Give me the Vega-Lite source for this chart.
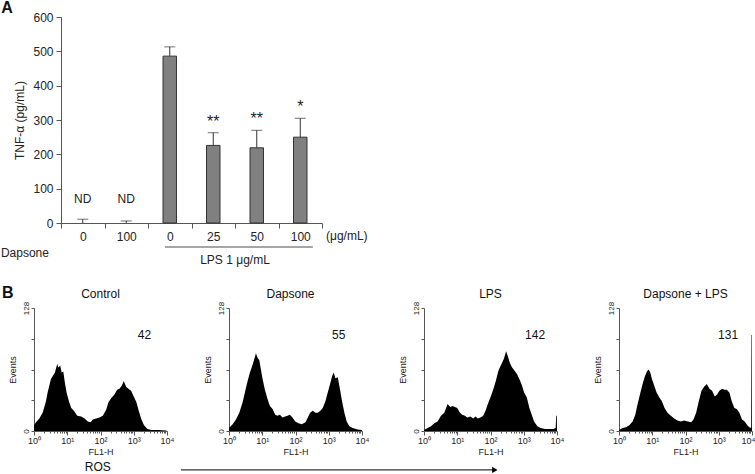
{
  "$schema": "https://vega.github.io/schema/vega-lite/v6.json",
  "padding": {"left": 0, "top": 0, "right": 0, "bottom": 0},
  "config": {
    "font": "Liberation Sans",
    "view": {"stroke": null},
    "axis": {"grid": false, "domainColor": "#555", "tickColor": "#555", "labelColor": "#222", "titleColor": "#222", "titleFontWeight": "normal"}
  },
  "bounds": "flush",
  "spacing": 85,
  "datasets": {
    "tnf": [
      {"cond": "D_0", "mean": 0, "upper": 11, "note": "ND"},
      {"cond": "D_100", "mean": 0, "upper": 6, "note": "ND"},
      {"cond": "L_0", "mean": 486, "upper": 513, "note": ""},
      {"cond": "L_25", "mean": 226, "upper": 263, "note": "**"},
      {"cond": "L_50", "mean": 219, "upper": 270, "note": "**"},
      {"cond": "L_100", "mean": 250, "upper": 305, "note": "*"}
    ],
    "labels": [
      {"panel": "C", "title": "Control", "mfi": "42"},
      {"panel": "D", "title": "Dapsone", "mfi": "55"},
      {"panel": "L", "title": "LPS", "mfi": "142"},
      {"panel": "DL", "title": "Dapsone + LPS", "mfi": "131"}
    ],
    "hist": [
      {"panel":"C","log_fl1":0,"events":6},{"panel":"C","log_fl1":0.06,"events":9},{"panel":"C","log_fl1":0.16,"events":13},{"panel":"C","log_fl1":0.26,"events":19},{"panel":"C","log_fl1":0.36,"events":31},{"panel":"C","log_fl1":0.41,"events":40},{"panel":"C","log_fl1":0.46,"events":47},{"panel":"C","log_fl1":0.51,"events":54},{"panel":"C","log_fl1":0.56,"events":57},{"panel":"C","log_fl1":0.63,"events":61},{"panel":"C","log_fl1":0.70,"events":70},{"panel":"C","log_fl1":0.73,"events":66},{"panel":"C","log_fl1":0.79,"events":68},{"panel":"C","log_fl1":0.83,"events":61},{"panel":"C","log_fl1":0.88,"events":62},{"panel":"C","log_fl1":0.93,"events":50},{"panel":"C","log_fl1":0.98,"events":40},{"panel":"C","log_fl1":1.05,"events":31},{"panel":"C","log_fl1":1.12,"events":24},{"panel":"C","log_fl1":1.20,"events":21},{"panel":"C","log_fl1":1.30,"events":16},{"panel":"C","log_fl1":1.42,"events":15},{"panel":"C","log_fl1":1.52,"events":13},{"panel":"C","log_fl1":1.62,"events":10},{"panel":"C","log_fl1":1.70,"events":9},{"panel":"C","log_fl1":1.77,"events":12},{"panel":"C","log_fl1":1.87,"events":13},{"panel":"C","log_fl1":1.97,"events":14},{"panel":"C","log_fl1":2.07,"events":16},{"panel":"C","log_fl1":2.17,"events":22},{"panel":"C","log_fl1":2.24,"events":30},{"panel":"C","log_fl1":2.32,"events":34},{"panel":"C","log_fl1":2.42,"events":38},{"panel":"C","log_fl1":2.50,"events":43},{"panel":"C","log_fl1":2.57,"events":44},{"panel":"C","log_fl1":2.64,"events":47},{"panel":"C","log_fl1":2.70,"events":52},{"panel":"C","log_fl1":2.77,"events":46},{"panel":"C","log_fl1":2.84,"events":44},{"panel":"C","log_fl1":2.92,"events":42},{"panel":"C","log_fl1":3.00,"events":36},{"panel":"C","log_fl1":3.08,"events":30},{"panel":"C","log_fl1":3.15,"events":21},{"panel":"C","log_fl1":3.23,"events":12},{"panel":"C","log_fl1":3.31,"events":6},{"panel":"C","log_fl1":3.41,"events":2},{"panel":"C","log_fl1":3.53,"events":1},{"panel":"C","log_fl1":3.73,"events":1},{"panel":"C","log_fl1":3.98,"events":0.5},
      {"panel":"D","log_fl1":0,"events":3},{"panel":"D","log_fl1":0.11,"events":7},{"panel":"D","log_fl1":0.21,"events":12},{"panel":"D","log_fl1":0.31,"events":19},{"panel":"D","log_fl1":0.41,"events":30},{"panel":"D","log_fl1":0.49,"events":42},{"panel":"D","log_fl1":0.56,"events":52},{"panel":"D","log_fl1":0.63,"events":61},{"panel":"D","log_fl1":0.71,"events":69},{"panel":"D","log_fl1":0.77,"events":76},{"panel":"D","log_fl1":0.81,"events":81},{"panel":"D","log_fl1":0.86,"events":76},{"panel":"D","log_fl1":0.91,"events":74},{"panel":"D","log_fl1":0.96,"events":64},{"panel":"D","log_fl1":1.01,"events":54},{"panel":"D","log_fl1":1.08,"events":43},{"panel":"D","log_fl1":1.16,"events":33},{"panel":"D","log_fl1":1.23,"events":26},{"panel":"D","log_fl1":1.31,"events":23},{"panel":"D","log_fl1":1.39,"events":17},{"panel":"D","log_fl1":1.46,"events":16},{"panel":"D","log_fl1":1.53,"events":17},{"panel":"D","log_fl1":1.61,"events":14},{"panel":"D","log_fl1":1.69,"events":15},{"panel":"D","log_fl1":1.76,"events":16},{"panel":"D","log_fl1":1.83,"events":17},{"panel":"D","log_fl1":1.91,"events":14},{"panel":"D","log_fl1":1.99,"events":10},{"panel":"D","log_fl1":2.09,"events":8},{"panel":"D","log_fl1":2.19,"events":7},{"panel":"D","log_fl1":2.30,"events":9},{"panel":"D","log_fl1":2.37,"events":14},{"panel":"D","log_fl1":2.44,"events":19},{"panel":"D","log_fl1":2.52,"events":21},{"panel":"D","log_fl1":2.60,"events":19},{"panel":"D","log_fl1":2.67,"events":19},{"panel":"D","log_fl1":2.75,"events":21},{"panel":"D","log_fl1":2.82,"events":24},{"panel":"D","log_fl1":2.90,"events":31},{"panel":"D","log_fl1":2.97,"events":40},{"panel":"D","log_fl1":3.04,"events":49},{"panel":"D","log_fl1":3.10,"events":57},{"panel":"D","log_fl1":3.15,"events":61},{"panel":"D","log_fl1":3.20,"events":55},{"panel":"D","log_fl1":3.27,"events":56},{"panel":"D","log_fl1":3.34,"events":43},{"panel":"D","log_fl1":3.40,"events":31},{"panel":"D","log_fl1":3.47,"events":19},{"panel":"D","log_fl1":3.54,"events":10},{"panel":"D","log_fl1":3.62,"events":5},{"panel":"D","log_fl1":3.72,"events":3},{"panel":"D","log_fl1":3.87,"events":1.5},{"panel":"D","log_fl1":4.0,"events":1},
      {"panel":"L","log_fl1":0,"events":1},{"panel":"L","log_fl1":0.11,"events":3},{"panel":"L","log_fl1":0.21,"events":5},{"panel":"L","log_fl1":0.31,"events":8},{"panel":"L","log_fl1":0.41,"events":10},{"panel":"L","log_fl1":0.51,"events":16},{"panel":"L","log_fl1":0.61,"events":19},{"panel":"L","log_fl1":0.71,"events":28},{"panel":"L","log_fl1":0.79,"events":25},{"panel":"L","log_fl1":0.86,"events":26},{"panel":"L","log_fl1":0.93,"events":25},{"panel":"L","log_fl1":1.00,"events":24},{"panel":"L","log_fl1":1.08,"events":19},{"panel":"L","log_fl1":1.15,"events":17},{"panel":"L","log_fl1":1.23,"events":16},{"panel":"L","log_fl1":1.30,"events":14},{"panel":"L","log_fl1":1.40,"events":15},{"panel":"L","log_fl1":1.48,"events":13},{"panel":"L","log_fl1":1.55,"events":15},{"panel":"L","log_fl1":1.62,"events":13},{"panel":"L","log_fl1":1.70,"events":14},{"panel":"L","log_fl1":1.78,"events":16},{"panel":"L","log_fl1":1.85,"events":21},{"panel":"L","log_fl1":1.92,"events":28},{"panel":"L","log_fl1":2.00,"events":35},{"panel":"L","log_fl1":2.08,"events":43},{"panel":"L","log_fl1":2.16,"events":52},{"panel":"L","log_fl1":2.24,"events":63},{"panel":"L","log_fl1":2.32,"events":69},{"panel":"L","log_fl1":2.40,"events":75},{"panel":"L","log_fl1":2.47,"events":83},{"panel":"L","log_fl1":2.52,"events":78},{"panel":"L","log_fl1":2.58,"events":71},{"panel":"L","log_fl1":2.65,"events":66},{"panel":"L","log_fl1":2.72,"events":63},{"panel":"L","log_fl1":2.80,"events":59},{"panel":"L","log_fl1":2.88,"events":53},{"panel":"L","log_fl1":2.95,"events":47},{"panel":"L","log_fl1":3.01,"events":40},{"panel":"L","log_fl1":3.09,"events":35},{"panel":"L","log_fl1":3.17,"events":24},{"panel":"L","log_fl1":3.24,"events":17},{"panel":"L","log_fl1":3.31,"events":10},{"panel":"L","log_fl1":3.41,"events":5},{"panel":"L","log_fl1":3.51,"events":3},{"panel":"L","log_fl1":3.64,"events":2},{"panel":"L","log_fl1":3.79,"events":2},{"panel":"L","log_fl1":3.89,"events":2},{"panel":"L","log_fl1":3.96,"events":3},{"panel":"L","log_fl1":3.975,"events":16},{"panel":"L","log_fl1":3.995,"events":16},{"panel":"L","log_fl1":4.0,"events":0},
      {"panel":"DL","log_fl1":0,"events":1},{"panel":"DL","log_fl1":0.11,"events":3},{"panel":"DL","log_fl1":0.21,"events":4},{"panel":"DL","log_fl1":0.31,"events":6},{"panel":"DL","log_fl1":0.41,"events":10},{"panel":"DL","log_fl1":0.49,"events":17},{"panel":"DL","log_fl1":0.56,"events":28},{"panel":"DL","log_fl1":0.63,"events":38},{"panel":"DL","log_fl1":0.71,"events":49},{"panel":"DL","log_fl1":0.78,"events":57},{"panel":"DL","log_fl1":0.84,"events":62},{"panel":"DL","log_fl1":0.89,"events":64},{"panel":"DL","log_fl1":0.94,"events":61},{"panel":"DL","log_fl1":0.99,"events":54},{"panel":"DL","log_fl1":1.06,"events":47},{"panel":"DL","log_fl1":1.13,"events":40},{"panel":"DL","log_fl1":1.21,"events":35},{"panel":"DL","log_fl1":1.29,"events":31},{"panel":"DL","log_fl1":1.37,"events":24},{"panel":"DL","log_fl1":1.46,"events":19},{"panel":"DL","log_fl1":1.56,"events":16},{"panel":"DL","log_fl1":1.66,"events":13},{"panel":"DL","log_fl1":1.76,"events":11},{"panel":"DL","log_fl1":1.86,"events":10},{"panel":"DL","log_fl1":1.96,"events":11},{"panel":"DL","log_fl1":2.07,"events":10},{"panel":"DL","log_fl1":2.17,"events":9},{"panel":"DL","log_fl1":2.24,"events":12},{"panel":"DL","log_fl1":2.32,"events":19},{"panel":"DL","log_fl1":2.40,"events":31},{"panel":"DL","log_fl1":2.48,"events":42},{"panel":"DL","log_fl1":2.56,"events":46},{"panel":"DL","log_fl1":2.64,"events":49},{"panel":"DL","log_fl1":2.72,"events":44},{"panel":"DL","log_fl1":2.80,"events":42},{"panel":"DL","log_fl1":2.88,"events":36},{"panel":"DL","log_fl1":2.95,"events":38},{"panel":"DL","log_fl1":3.02,"events":42},{"panel":"DL","log_fl1":3.10,"events":44},{"panel":"DL","log_fl1":3.17,"events":43},{"panel":"DL","log_fl1":3.24,"events":43},{"panel":"DL","log_fl1":3.32,"events":40},{"panel":"DL","log_fl1":3.39,"events":31},{"panel":"DL","log_fl1":3.47,"events":24},{"panel":"DL","log_fl1":3.54,"events":23},{"panel":"DL","log_fl1":3.62,"events":19},{"panel":"DL","log_fl1":3.70,"events":12},{"panel":"DL","log_fl1":3.78,"events":10},{"panel":"DL","log_fl1":3.86,"events":6},{"panel":"DL","log_fl1":3.92,"events":4},{"panel":"DL","log_fl1":3.975,"events":3},{"panel":"DL","log_fl1":3.985,"events":100},{"panel":"DL","log_fl1":4.0,"events":100}
    ]
  },
  "vconcat": [
    {
      "width": 288,
      "height": 206,
      "data": {"name": "tnf"},
      "layer": [
        {
          "transform": [{"filter": "datum.mean > 0"}],
          "mark": {"type": "bar", "width": {"band": 0.31}, "fill": "#808080", "stroke": "#333", "strokeWidth": 1},
          "encoding": {
            "x": {"field": "cond", "type": "nominal", "scale": {"type": "band", "domain": ["D_0","D_100","L_0","L_25","L_50","L_100"], "paddingInner": 0, "paddingOuter": 0, "range": [27, 288]},
                  "axis": {"title": null, "labelExpr": "split(datum.value, '_')[1]", "tickBand": "extent", "tickSize": 5, "labelAngle": 0, "labelFontSize": 12, "labelPadding": 3}},
            "y": {"field": "mean", "type": "quantitative", "scale": {"domain": [0, 600], "nice": false},
                  "axis": {"title": "TNF-α (pg/mL)", "offset": -27, "values": [0,100,200,300,400,500,600], "tickSize": 5, "labelFontSize": 12, "titleFontSize": 12, "labelPadding": 3, "titlePadding": 6}}
          }
        },
        {
          "mark": {"type": "rule", "color": "#333", "strokeWidth": 1},
          "encoding": {
            "x": {"field": "cond", "type": "nominal", "scale": {"type": "band", "domain": ["D_0","D_100","L_0","L_25","L_50","L_100"], "paddingInner": 0, "paddingOuter": 0, "range": [27, 288]},
                  "axis": {"title": null, "labelExpr": "split(datum.value, '_')[1]", "tickBand": "extent", "tickSize": 5, "labelAngle": 0, "labelFontSize": 12, "labelPadding": 3}},
            "y": {"field": "mean", "type": "quantitative", "scale": {"domain": [0, 600], "nice": false},
                  "axis": {"title": "TNF-α (pg/mL)", "offset": -27, "values": [0,100,200,300,400,500,600], "tickSize": 5, "labelFontSize": 12, "titleFontSize": 12, "labelPadding": 3, "titlePadding": 6}},
            "y2": {"field": "upper"}
          }
        },
        {
          "mark": {"type": "tick", "orient": "horizontal", "size": 11, "thickness": 1, "color": "#333"},
          "encoding": {
            "x": {"field": "cond", "type": "nominal", "scale": {"type": "band", "domain": ["D_0","D_100","L_0","L_25","L_50","L_100"], "paddingInner": 0, "paddingOuter": 0, "range": [27, 288]},
                  "axis": {"title": null, "labelExpr": "split(datum.value, '_')[1]", "tickBand": "extent", "tickSize": 5, "labelAngle": 0, "labelFontSize": 12, "labelPadding": 3}},
            "y": {"field": "upper", "type": "quantitative", "scale": {"domain": [0, 600], "nice": false},
                  "axis": {"title": "TNF-α (pg/mL)", "offset": -27, "values": [0,100,200,300,400,500,600], "tickSize": 5, "labelFontSize": 12, "titleFontSize": 12, "labelPadding": 3, "titlePadding": 6}}
          }
        },
        {
          "transform": [{"filter": "datum.note === 'ND'"}],
          "mark": {"type": "text", "fontSize": 12, "color": "#222", "baseline": "middle"},
          "encoding": {
            "x": {"field": "cond", "type": "nominal", "scale": {"type": "band", "domain": ["D_0","D_100","L_0","L_25","L_50","L_100"], "paddingInner": 0, "paddingOuter": 0, "range": [27, 288]},
                  "axis": {"title": null, "labelExpr": "split(datum.value, '_')[1]", "tickBand": "extent", "tickSize": 5, "labelAngle": 0, "labelFontSize": 12, "labelPadding": 3}},
            "y": {"datum": 70, "type": "quantitative", "scale": {"domain": [0, 600], "nice": false},
                  "axis": {"title": "TNF-α (pg/mL)", "offset": -27, "values": [0,100,200,300,400,500,600], "tickSize": 5, "labelFontSize": 12, "titleFontSize": 12, "labelPadding": 3, "titlePadding": 6}},
            "text": {"field": "note"}
          }
        },
        {
          "transform": [{"filter": "datum.note === '*' || datum.note === '**'"}],
          "mark": {"type": "text", "fontSize": 16, "color": "#222", "baseline": "alphabetic", "dy": -6},
          "encoding": {
            "x": {"field": "cond", "type": "nominal", "scale": {"type": "band", "domain": ["D_0","D_100","L_0","L_25","L_50","L_100"], "paddingInner": 0, "paddingOuter": 0, "range": [27, 288]},
                  "axis": {"title": null, "labelExpr": "split(datum.value, '_')[1]", "tickBand": "extent", "tickSize": 5, "labelAngle": 0, "labelFontSize": 12, "labelPadding": 3}},
            "y": {"field": "upper", "type": "quantitative", "scale": {"domain": [0, 600], "nice": false},
                  "axis": {"title": "TNF-α (pg/mL)", "offset": -27, "values": [0,100,200,300,400,500,600], "tickSize": 5, "labelFontSize": 12, "titleFontSize": 12, "labelPadding": 3, "titlePadding": 6}},
            "text": {"field": "note"}
          }
        },
        {
          "data": {"values": [{"t": "A"}]},
          "mark": {"type": "text", "fontSize": 16, "fontWeight": "bold", "color": "#111", "baseline": "middle"},
          "encoding": {
            "x": {"datum": "D_0", "type": "nominal", "bandPosition": -1.24, "scale": {"type": "band", "domain": ["D_0","D_100","L_0","L_25","L_50","L_100"], "paddingInner": 0, "paddingOuter": 0, "range": [27, 288]},
                  "axis": {"title": null, "labelExpr": "split(datum.value, '_')[1]", "tickBand": "extent", "tickSize": 5, "labelAngle": 0, "labelFontSize": 12, "labelPadding": 3}},
            "y": {"datum": 625, "type": "quantitative", "scale": {"domain": [0, 600], "nice": false},
                  "axis": {"title": "TNF-α (pg/mL)", "offset": -27, "values": [0,100,200,300,400,500,600], "tickSize": 5, "labelFontSize": 12, "titleFontSize": 12, "labelPadding": 3, "titlePadding": 6}},
            "text": {"field": "t"}
          }
        },
        {
          "data": {"values": [{"t": "Dapsone"}]},
          "mark": {"type": "text", "fontSize": 12, "color": "#222", "baseline": "middle"},
          "encoding": {
            "x": {"datum": "D_0", "type": "nominal", "bandPosition": -0.83, "scale": {"type": "band", "domain": ["D_0","D_100","L_0","L_25","L_50","L_100"], "paddingInner": 0, "paddingOuter": 0, "range": [27, 288]},
                  "axis": {"title": null, "labelExpr": "split(datum.value, '_')[1]", "tickBand": "extent", "tickSize": 5, "labelAngle": 0, "labelFontSize": 12, "labelPadding": 3}},
            "y": {"datum": -87, "type": "quantitative", "scale": {"domain": [0, 600], "nice": false},
                  "axis": {"title": "TNF-α (pg/mL)", "offset": -27, "values": [0,100,200,300,400,500,600], "tickSize": 5, "labelFontSize": 12, "titleFontSize": 12, "labelPadding": 3, "titlePadding": 6}},
            "text": {"field": "t"}
          }
        },
        {
          "data": {"values": [{"t": "(μg/mL)"}]},
          "mark": {"type": "text", "fontSize": 12, "color": "#222", "baseline": "middle"},
          "encoding": {
            "x": {"datum": "L_100", "type": "nominal", "bandPosition": 1.57, "scale": {"type": "band", "domain": ["D_0","D_100","L_0","L_25","L_50","L_100"], "paddingInner": 0, "paddingOuter": 0, "range": [27, 288]},
                  "axis": {"title": null, "labelExpr": "split(datum.value, '_')[1]", "tickBand": "extent", "tickSize": 5, "labelAngle": 0, "labelFontSize": 12, "labelPadding": 3}},
            "y": {"datum": -38, "type": "quantitative", "scale": {"domain": [0, 600], "nice": false},
                  "axis": {"title": "TNF-α (pg/mL)", "offset": -27, "values": [0,100,200,300,400,500,600], "tickSize": 5, "labelFontSize": 12, "titleFontSize": 12, "labelPadding": 3, "titlePadding": 6}},
            "text": {"field": "t"}
          }
        },
        {
          "data": {"values": [{"t": "LPS"}]},
          "mark": {"type": "rule", "color": "#888", "strokeWidth": 1.5},
          "encoding": {
            "x": {"datum": "L_0", "type": "nominal", "bandPosition": 0.39, "scale": {"type": "band", "domain": ["D_0","D_100","L_0","L_25","L_50","L_100"], "paddingInner": 0, "paddingOuter": 0, "range": [27, 288]},
                  "axis": {"title": null, "labelExpr": "split(datum.value, '_')[1]", "tickBand": "extent", "tickSize": 5, "labelAngle": 0, "labelFontSize": 12, "labelPadding": 3}},
            "x2": {"datum": "L_100", "bandPosition": 0.79},
            "y": {"datum": -70, "type": "quantitative", "scale": {"domain": [0, 600], "nice": false},
                  "axis": {"title": "TNF-α (pg/mL)", "offset": -27, "values": [0,100,200,300,400,500,600], "tickSize": 5, "labelFontSize": 12, "titleFontSize": 12, "labelPadding": 3, "titlePadding": 6}}
          }
        },
        {
          "data": {"values": [{"t": "LPS 1 μg/mL"}]},
          "mark": {"type": "text", "fontSize": 12, "color": "#222", "baseline": "middle"},
          "encoding": {
            "x": {"datum": "L_50", "type": "nominal", "bandPosition": 0, "scale": {"type": "band", "domain": ["D_0","D_100","L_0","L_25","L_50","L_100"], "paddingInner": 0, "paddingOuter": 0, "range": [27, 288]},
                  "axis": {"title": null, "labelExpr": "split(datum.value, '_')[1]", "tickBand": "extent", "tickSize": 5, "labelAngle": 0, "labelFontSize": 12, "labelPadding": 3}},
            "y": {"datum": -108, "type": "quantitative", "scale": {"domain": [0, 600], "nice": false},
                  "axis": {"title": "TNF-α (pg/mL)", "offset": -27, "values": [0,100,200,300,400,500,600], "tickSize": 5, "labelFontSize": 12, "titleFontSize": 12, "labelPadding": 3, "titlePadding": 6}},
            "text": {"field": "t"}
          }
        }
      ]
    },
    {
      "bounds": "flush",
      "spacing": 62,
      "hconcat": [
        {
          "width": 133, "height": 123,
          "resolve": {"axis": {"x": "independent"}},
          "layer": [
            {
              "data": {"name": "hist"}, "transform": [{"filter": "datum.panel === 'C'"}],
              "mark": {"type": "area", "color": "#000"},
              "encoding": {
                "x": {"field": "log_fl1", "type": "quantitative", "scale": {"domain": [0, 4], "nice": false, "zero": false},
                      "axis": {"orient": "bottom", "title": "FL1-H", "values": [0,1,2,3,4], "labelExpr": "'10' + ['⁰','¹','²','³','⁴'][datum.value]", "tickSize": 4, "labelFontSize": 9, "titleFontSize": 9, "labelPadding": 1, "titlePadding": 2, "labelFlush": false}},
                "y": {"field": "events", "type": "quantitative", "scale": {"domain": [0, 128], "nice": false},
                      "axis": {"title": "Events", "values": [0,32,64,96,128], "labelExpr": "datum.value == 0 || datum.value == 128 ? datum.label : ''", "labelAngle": 270, "labelAlign": "center", "labelBaseline": "bottom", "tickSize": 3, "labelFontSize": 8, "titleFontSize": 9, "labelPadding": 1, "titlePadding": 5}}
              }
            },
            {
              "data": {"name": "labels"}, "transform": [{"filter": "datum.panel === 'C'"}],
              "mark": {"type": "text", "fontSize": 12, "color": "#111", "baseline": "middle"},
              "encoding": {
                "x": {"datum": 3.32, "type": "quantitative", "scale": {"domain": [0, 4], "nice": false, "zero": false},
                      "axis": {"orient": "bottom", "values": [0.301,0.477,0.602,0.699,0.778,0.845,0.903,0.954,1.301,1.477,1.602,1.699,1.778,1.845,1.903,1.954,2.301,2.477,2.602,2.699,2.778,2.845,2.903,2.954,3.301,3.477,3.602,3.699,3.778,3.845,3.903,3.954], "labels": false, "domain": false, "tickSize": 2, "title": null}},
                "y": {"datum": 100, "type": "quantitative", "scale": {"domain": [0, 128], "nice": false},
                      "axis": {"title": "Events", "values": [0,32,64,96,128], "labelExpr": "datum.value == 0 || datum.value == 128 ? datum.label : ''", "labelAngle": 270, "labelAlign": "center", "labelBaseline": "bottom", "tickSize": 3, "labelFontSize": 8, "titleFontSize": 9, "labelPadding": 1, "titlePadding": 5}},
                "text": {"field": "mfi"}
              }
            },
            {
              "data": {"name": "labels"}, "transform": [{"filter": "datum.panel === 'C'"}],
              "mark": {"type": "text", "fontSize": 12, "color": "#111", "baseline": "middle"},
              "encoding": {
                "x": {"datum": 2, "type": "quantitative", "scale": {"domain": [0, 4], "nice": false, "zero": false}, "axis": null},
                "y": {"datum": 142.6, "type": "quantitative", "scale": {"domain": [0, 128], "nice": false},
                      "axis": {"title": "Events", "values": [0,32,64,96,128], "labelExpr": "datum.value == 0 || datum.value == 128 ? datum.label : ''", "labelAngle": 270, "labelAlign": "center", "labelBaseline": "bottom", "tickSize": 3, "labelFontSize": 8, "titleFontSize": 9, "labelPadding": 1, "titlePadding": 5}},
                "text": {"field": "title"}
              }
            },
            {
              "data": {"values": [{"t": "B"}]},
              "mark": {"type": "text", "fontSize": 16, "fontWeight": "bold", "color": "#111", "baseline": "middle"},
              "encoding": {
                "x": {"datum": -0.79, "type": "quantitative", "scale": {"domain": [0, 4], "nice": false, "zero": false}, "axis": null},
                "y": {"datum": 144, "type": "quantitative", "scale": {"domain": [0, 128], "nice": false},
                      "axis": {"title": "Events", "values": [0,32,64,96,128], "labelExpr": "datum.value == 0 || datum.value == 128 ? datum.label : ''", "labelAngle": 270, "labelAlign": "center", "labelBaseline": "bottom", "tickSize": 3, "labelFontSize": 8, "titleFontSize": 9, "labelPadding": 1, "titlePadding": 5}},
                "text": {"field": "t"}
              }
            },
            {
              "data": {"values": [{"t": "ROS"}]},
              "mark": {"type": "text", "fontSize": 12, "color": "#111", "baseline": "middle"},
              "encoding": {
                "x": {"datum": 1.92, "type": "quantitative", "scale": {"domain": [0, 4], "nice": false, "zero": false}, "axis": null},
                "y": {"datum": -37.5, "type": "quantitative", "scale": {"domain": [0, 128], "nice": false},
                      "axis": {"title": "Events", "values": [0,32,64,96,128], "labelExpr": "datum.value == 0 || datum.value == 128 ? datum.label : ''", "labelAngle": 270, "labelAlign": "center", "labelBaseline": "bottom", "tickSize": 3, "labelFontSize": 8, "titleFontSize": 9, "labelPadding": 1, "titlePadding": 5}},
                "text": {"field": "t"}
              }
            },
            {
              "data": {"values": [{"t": "arrow"}]},
              "mark": {"type": "rule", "color": "#000", "strokeWidth": 1},
              "encoding": {
                "x": {"datum": 4.42, "type": "quantitative", "scale": {"domain": [0, 4], "nice": false, "zero": false}, "axis": null},
                "x2": {"datum": 13.8},
                "y": {"datum": -40.5, "type": "quantitative", "scale": {"domain": [0, 128], "nice": false},
                      "axis": {"title": "Events", "values": [0,32,64,96,128], "labelExpr": "datum.value == 0 || datum.value == 128 ? datum.label : ''", "labelAngle": 270, "labelAlign": "center", "labelBaseline": "bottom", "tickSize": 3, "labelFontSize": 8, "titleFontSize": 9, "labelPadding": 1, "titlePadding": 5}}
              }
            },
            {
              "data": {"values": [{"t": "arrowhead"}]},
              "mark": {"type": "point", "shape": "triangle-right", "filled": true, "color": "#000", "size": 40, "opacity": 1},
              "encoding": {
                "x": {"datum": 13.86, "type": "quantitative", "scale": {"domain": [0, 4], "nice": false, "zero": false}, "axis": null},
                "y": {"datum": -40.5, "type": "quantitative", "scale": {"domain": [0, 128], "nice": false},
                      "axis": {"title": "Events", "values": [0,32,64,96,128], "labelExpr": "datum.value == 0 || datum.value == 128 ? datum.label : ''", "labelAngle": 270, "labelAlign": "center", "labelBaseline": "bottom", "tickSize": 3, "labelFontSize": 8, "titleFontSize": 9, "labelPadding": 1, "titlePadding": 5}}
              }
            }
          ]
        },
        {
          "width": 133, "height": 123,
          "resolve": {"axis": {"x": "independent"}},
          "layer": [
            {
              "data": {"name": "hist"}, "transform": [{"filter": "datum.panel === 'D'"}],
              "mark": {"type": "area", "color": "#000"},
              "encoding": {
                "x": {"field": "log_fl1", "type": "quantitative", "scale": {"domain": [0, 4], "nice": false, "zero": false},
                      "axis": {"orient": "bottom", "title": "FL1-H", "values": [0,1,2,3,4], "labelExpr": "'10' + ['⁰','¹','²','³','⁴'][datum.value]", "tickSize": 4, "labelFontSize": 9, "titleFontSize": 9, "labelPadding": 1, "titlePadding": 2, "labelFlush": false}},
                "y": {"field": "events", "type": "quantitative", "scale": {"domain": [0, 128], "nice": false},
                      "axis": {"title": "Events", "values": [0,32,64,96,128], "labelExpr": "datum.value == 0 || datum.value == 128 ? datum.label : ''", "labelAngle": 270, "labelAlign": "center", "labelBaseline": "bottom", "tickSize": 3, "labelFontSize": 8, "titleFontSize": 9, "labelPadding": 1, "titlePadding": 5}}
              }
            },
            {
              "data": {"name": "labels"}, "transform": [{"filter": "datum.panel === 'D'"}],
              "mark": {"type": "text", "fontSize": 12, "color": "#111", "baseline": "middle"},
              "encoding": {
                "x": {"datum": 3.3, "type": "quantitative", "scale": {"domain": [0, 4], "nice": false, "zero": false},
                      "axis": {"orient": "bottom", "values": [0.301,0.477,0.602,0.699,0.778,0.845,0.903,0.954,1.301,1.477,1.602,1.699,1.778,1.845,1.903,1.954,2.301,2.477,2.602,2.699,2.778,2.845,2.903,2.954,3.301,3.477,3.602,3.699,3.778,3.845,3.903,3.954], "labels": false, "domain": false, "tickSize": 2, "title": null}},
                "y": {"datum": 100, "type": "quantitative", "scale": {"domain": [0, 128], "nice": false},
                      "axis": {"title": "Events", "values": [0,32,64,96,128], "labelExpr": "datum.value == 0 || datum.value == 128 ? datum.label : ''", "labelAngle": 270, "labelAlign": "center", "labelBaseline": "bottom", "tickSize": 3, "labelFontSize": 8, "titleFontSize": 9, "labelPadding": 1, "titlePadding": 5}},
                "text": {"field": "mfi"}
              }
            },
            {
              "data": {"name": "labels"}, "transform": [{"filter": "datum.panel === 'D'"}],
              "mark": {"type": "text", "fontSize": 12, "color": "#111", "baseline": "middle"},
              "encoding": {
                "x": {"datum": 1.85, "type": "quantitative", "scale": {"domain": [0, 4], "nice": false, "zero": false}, "axis": null},
                "y": {"datum": 142.6, "type": "quantitative", "scale": {"domain": [0, 128], "nice": false},
                      "axis": {"title": "Events", "values": [0,32,64,96,128], "labelExpr": "datum.value == 0 || datum.value == 128 ? datum.label : ''", "labelAngle": 270, "labelAlign": "center", "labelBaseline": "bottom", "tickSize": 3, "labelFontSize": 8, "titleFontSize": 9, "labelPadding": 1, "titlePadding": 5}},
                "text": {"field": "title"}
              }
            }
          ]
        },
        {
          "width": 133, "height": 123,
          "resolve": {"axis": {"x": "independent"}},
          "layer": [
            {
              "data": {"name": "hist"}, "transform": [{"filter": "datum.panel === 'L'"}],
              "mark": {"type": "area", "color": "#000"},
              "encoding": {
                "x": {"field": "log_fl1", "type": "quantitative", "scale": {"domain": [0, 4], "nice": false, "zero": false},
                      "axis": {"orient": "bottom", "title": "FL1-H", "values": [0,1,2,3,4], "labelExpr": "'10' + ['⁰','¹','²','³','⁴'][datum.value]", "tickSize": 4, "labelFontSize": 9, "titleFontSize": 9, "labelPadding": 1, "titlePadding": 2, "labelFlush": false}},
                "y": {"field": "events", "type": "quantitative", "scale": {"domain": [0, 128], "nice": false},
                      "axis": {"title": "Events", "values": [0,32,64,96,128], "labelExpr": "datum.value == 0 || datum.value == 128 ? datum.label : ''", "labelAngle": 270, "labelAlign": "center", "labelBaseline": "bottom", "tickSize": 3, "labelFontSize": 8, "titleFontSize": 9, "labelPadding": 1, "titlePadding": 5}}
              }
            },
            {
              "data": {"name": "labels"}, "transform": [{"filter": "datum.panel === 'L'"}],
              "mark": {"type": "text", "fontSize": 12, "color": "#111", "baseline": "middle"},
              "encoding": {
                "x": {"datum": 3.34, "type": "quantitative", "scale": {"domain": [0, 4], "nice": false, "zero": false},
                      "axis": {"orient": "bottom", "values": [0.301,0.477,0.602,0.699,0.778,0.845,0.903,0.954,1.301,1.477,1.602,1.699,1.778,1.845,1.903,1.954,2.301,2.477,2.602,2.699,2.778,2.845,2.903,2.954,3.301,3.477,3.602,3.699,3.778,3.845,3.903,3.954], "labels": false, "domain": false, "tickSize": 2, "title": null}},
                "y": {"datum": 100, "type": "quantitative", "scale": {"domain": [0, 128], "nice": false},
                      "axis": {"title": "Events", "values": [0,32,64,96,128], "labelExpr": "datum.value == 0 || datum.value == 128 ? datum.label : ''", "labelAngle": 270, "labelAlign": "center", "labelBaseline": "bottom", "tickSize": 3, "labelFontSize": 8, "titleFontSize": 9, "labelPadding": 1, "titlePadding": 5}},
                "text": {"field": "mfi"}
              }
            },
            {
              "data": {"name": "labels"}, "transform": [{"filter": "datum.panel === 'L'"}],
              "mark": {"type": "text", "fontSize": 12, "color": "#111", "baseline": "middle"},
              "encoding": {
                "x": {"datum": 2, "type": "quantitative", "scale": {"domain": [0, 4], "nice": false, "zero": false}, "axis": null},
                "y": {"datum": 142.6, "type": "quantitative", "scale": {"domain": [0, 128], "nice": false},
                      "axis": {"title": "Events", "values": [0,32,64,96,128], "labelExpr": "datum.value == 0 || datum.value == 128 ? datum.label : ''", "labelAngle": 270, "labelAlign": "center", "labelBaseline": "bottom", "tickSize": 3, "labelFontSize": 8, "titleFontSize": 9, "labelPadding": 1, "titlePadding": 5}},
                "text": {"field": "title"}
              }
            }
          ]
        },
        {
          "width": 133, "height": 123,
          "resolve": {"axis": {"x": "independent"}},
          "layer": [
            {
              "data": {"name": "hist"}, "transform": [{"filter": "datum.panel === 'DL'"}],
              "mark": {"type": "area", "color": "#000"},
              "encoding": {
                "x": {"field": "log_fl1", "type": "quantitative", "scale": {"domain": [0, 4], "nice": false, "zero": false},
                      "axis": {"orient": "bottom", "title": "FL1-H", "values": [0,1,2,3,4], "labelExpr": "'10' + ['⁰','¹','²','³','⁴'][datum.value]", "tickSize": 4, "labelFontSize": 9, "titleFontSize": 9, "labelPadding": 1, "titlePadding": 2, "labelFlush": false,
                               "labelAlign": {"condition": {"test": "datum.value == 4", "value": "right"}, "value": "center"},
                               "labelOffset": {"condition": {"test": "datum.value == 4", "value": 3}, "value": 0}}},
                "y": {"field": "events", "type": "quantitative", "scale": {"domain": [0, 128], "nice": false},
                      "axis": {"title": "Events", "values": [0,32,64,96,128], "labelExpr": "datum.value == 0 || datum.value == 128 ? datum.label : ''", "labelAngle": 270, "labelAlign": "center", "labelBaseline": "bottom", "tickSize": 3, "labelFontSize": 8, "titleFontSize": 9, "labelPadding": 1, "titlePadding": 5}}
              }
            },
            {
              "data": {"name": "labels"}, "transform": [{"filter": "datum.panel === 'DL'"}],
              "mark": {"type": "text", "fontSize": 12, "color": "#111", "baseline": "middle"},
              "encoding": {
                "x": {"datum": 3.28, "type": "quantitative", "scale": {"domain": [0, 4], "nice": false, "zero": false},
                      "axis": {"orient": "bottom", "values": [0.301,0.477,0.602,0.699,0.778,0.845,0.903,0.954,1.301,1.477,1.602,1.699,1.778,1.845,1.903,1.954,2.301,2.477,2.602,2.699,2.778,2.845,2.903,2.954,3.301,3.477,3.602,3.699,3.778,3.845,3.903,3.954], "labels": false, "domain": false, "tickSize": 2, "title": null}},
                "y": {"datum": 100, "type": "quantitative", "scale": {"domain": [0, 128], "nice": false},
                      "axis": {"title": "Events", "values": [0,32,64,96,128], "labelExpr": "datum.value == 0 || datum.value == 128 ? datum.label : ''", "labelAngle": 270, "labelAlign": "center", "labelBaseline": "bottom", "tickSize": 3, "labelFontSize": 8, "titleFontSize": 9, "labelPadding": 1, "titlePadding": 5}},
                "text": {"field": "mfi"}
              }
            },
            {
              "data": {"name": "labels"}, "transform": [{"filter": "datum.panel === 'DL'"}],
              "mark": {"type": "text", "fontSize": 12, "color": "#111", "baseline": "middle"},
              "encoding": {
                "x": {"datum": 2, "type": "quantitative", "scale": {"domain": [0, 4], "nice": false, "zero": false}, "axis": null},
                "y": {"datum": 142.6, "type": "quantitative", "scale": {"domain": [0, 128], "nice": false},
                      "axis": {"title": "Events", "values": [0,32,64,96,128], "labelExpr": "datum.value == 0 || datum.value == 128 ? datum.label : ''", "labelAngle": 270, "labelAlign": "center", "labelBaseline": "bottom", "tickSize": 3, "labelFontSize": 8, "titleFontSize": 9, "labelPadding": 1, "titlePadding": 5}},
                "text": {"field": "title"}
              }
            }
          ]
        }
      ]
    }
  ]
}
